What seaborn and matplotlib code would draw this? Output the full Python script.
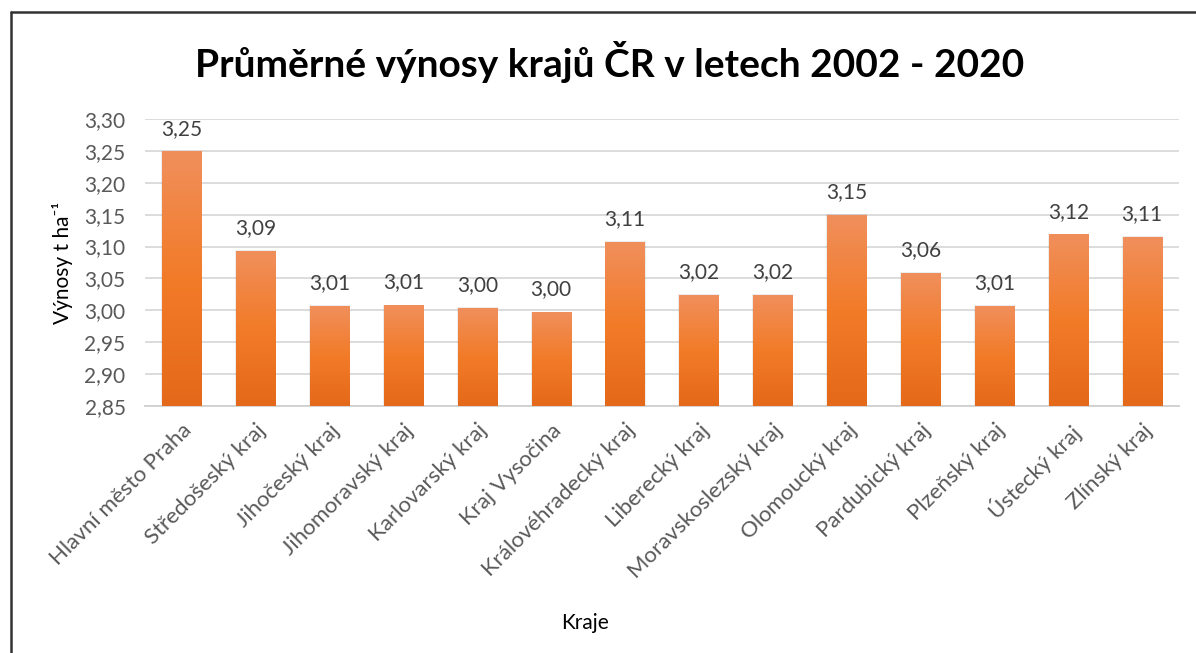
import matplotlib
matplotlib.use("Agg")
import matplotlib.pyplot as plt
import seaborn as sns
import numpy as np
import pandas as pd
from matplotlib.colors import LinearSegmentedColormap
from matplotlib.lines import Line2D

categories = ["Hlavní město Praha", "Středošeský kraj", "Jihočeský kraj", "Jihomoravský kraj",
              "Karlovarský kraj", "Kraj Vysočina", "Královéhradecký kraj", "Liberecký kraj",
              "Moravskoslezský kraj", "Olomoucký kraj", "Pardubický kraj", "Plzeňský kraj",
              "Ústecký kraj", "Zlínský kraj"]
values = [3.248, 3.092, 3.006, 3.007, 3.003, 2.996, 3.106, 3.023, 3.023, 3.149, 3.058, 3.006, 3.118, 3.114]
yticks = [2.85, 2.90, 2.95, 3.00, 3.05, 3.10, 3.15, 3.20, 3.25, 3.30]

title = "Průměrné výnosy krajů ČR v letech 2002 - 2020"
xlabel = "Kraje"
ylabel = "Výnosy t ha⁻¹"

sns.set_theme(style="white")
plt.rcParams['font.family'] = ['Lato', 'DejaVu Sans']

df = pd.DataFrame({"kraj": categories, "vynos": values})

YMIN, YMAX = 2.85, 3.30

fig = plt.figure(figsize=(11.96, 6.53), dpi=100)
ax = fig.add_axes([0.1212, 0.378, 0.8646, 0.4400])

sns.barplot(data=df, x="kraj", y="vynos", color="#F07F2E", width=0.53, ax=ax, zorder=3)

ax.set_ylim(YMIN, YMAX)
ax.set_xlim(-0.5, len(categories) - 0.5)
ax.set_yticks(yticks)
ax.set_yticklabels([f"{t:.2f}".replace(".", ",") for t in yticks], color="#595959", fontsize=15)
ax.tick_params(axis="y", length=0, pad=14)
ax.tick_params(axis="x", length=0, pad=10)
ax.set_xticks(range(len(categories)))
ax.set_xticklabels(categories, rotation=45, ha="right", rotation_mode="anchor",
                   color="#595959", fontsize=16)

ax.yaxis.grid(True, color="#D9D9D9", linewidth=1.3, zorder=0)
ax.set_axisbelow(True)
for s in ["top", "right", "left"]:
    ax.spines[s].set_visible(False)
ax.spines["bottom"].set_color("#D0D0D0")
ax.spines["bottom"].set_linewidth(1.3)

# gradient fill for bars (visible portion above the axis minimum)
cmap = LinearSegmentedColormap.from_list("og", ["#E4691A", "#F27B28", "#F08F5C"])
grad = np.linspace(0, 1, 256).reshape(-1, 1)
for p, v in zip(ax.patches, values):
    x0, w = p.get_x(), p.get_width()
    top = p.get_y() + p.get_height()
    p.set_visible(False)
    # soft shadow
    ax.add_patch(plt.Rectangle((x0 - 0.012, YMIN), w + 0.024, top - YMIN + 0.002, color="#000000",
                               alpha=0.07, zorder=2, linewidth=0))
    ax.imshow(grad, extent=[x0, x0 + w, YMIN, top], origin="lower", aspect="auto",
              cmap=cmap, zorder=3.5, interpolation="bilinear")
    ax.text(x0 + w / 2, v + 0.021, f"{v:.2f}".replace(".", ","), ha="center", va="bottom",
            fontsize=15, color="#404040", zorder=5)

ax.set_xlim(-0.5, len(categories) - 0.5)
ax.set_ylim(YMIN, YMAX)

ax.set_xlabel("")
ax.set_ylabel(ylabel, fontsize=15, color="#000000", labelpad=8)
fig.text(0.489, 0.046, xlabel, ha="center", va="center", fontsize=15, color="#000000")
fig.text(0.51, 0.905, title, ha="center", va="center", fontsize=28, fontweight="bold", color="#000000")

# outer border (left and top visible)
fig.add_artist(Line2D([0.0092, 0.0092], [0, 0.981], transform=fig.transFigure, color="#333333", linewidth=1.8))
fig.add_artist(Line2D([0.0092, 1.0], [0.981, 0.981], transform=fig.transFigure, color="#333333", linewidth=1.8))

fig.savefig("out.png", dpi=100)
